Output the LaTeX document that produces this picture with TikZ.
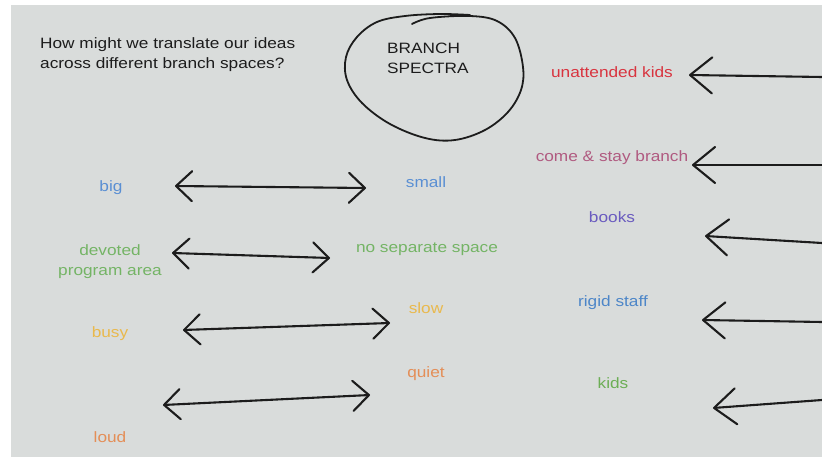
\documentclass[tikz,border=0pt]{standalone}
\usepackage{fontspec}
\usepackage{xcolor}
\usepackage{tikz}
\usetikzlibrary{arrows.meta,positioning}

\newfontfamily\hand{Liberation Sans}[FakeStretch=1.15]

\definecolor{board}{HTML}{D9DCDB}
\definecolor{ink}{HTML}{1C1C1C}
\definecolor{cblue}{HTML}{5A8FD3}
\definecolor{cgreen}{HTML}{74B465}
\definecolor{cyellow}{HTML}{E9B94D}
\definecolor{corange}{HTML}{E48E57}
\definecolor{cred}{HTML}{D8343F}
\definecolor{cmauve}{HTML}{B05A80}
\definecolor{cpurple}{HTML}{6A5BBF}
\definecolor{csteel}{HTML}{4D86C8}
\definecolor{ckids}{HTML}{6CAE55}

\begin{document}
\begin{tikzpicture}[
  x = 1pt, y = -1pt,
  lbl/.style = {font=\hand\fontsize{15}{20}\selectfont, anchor=base,
                align=center, inner sep=0pt},
  note/.style = {lbl, align=left, text=ink, anchor=base west},
  twoway/.style = {draw=ink, line width=2.1pt,
                   {Straight Barb[round,length=16pt,width=30pt]}-{Straight Barb[round,length=16pt,width=30pt]}},
  oneway/.style = {draw=ink, line width=2.1pt,
                   {Straight Barb[round,length=22pt,width=36pt]}-}
]
% canvas
\fill[white] (0,0) rectangle (822,457);
\useasboundingbox (0,0) rectangle (822,457);
\fill[board] (11,5) rectangle (822,457);

% question and title (base = last line)
\node[note] (question) at (40,69) {How might we translate our ideas\\across different branch spaces?};
\node[note] (title) at (387,74) {BRANCH\\SPECTRA};
\draw[ink, line width=1.8pt, line cap=round] plot[smooth, tension=0.6] coordinates {
  (412,24) (430,18) (470,16) (497,21) (515,38) (523,67) (521,90) (508,112)
  (485,130) (455,140) (425,138) (390,124) (362,103) (347,80) (346,57)
  (357,37) (377,22) (405,16) (440,14) (470,15)};

% left column: opposite pairs
\node[lbl, text=cblue] (big) at (111,192) {big};
\node[lbl, text=cblue] (small) at (426,188) {small};
\node[lbl, text=cgreen] (devoted) at (110,275) {devoted\\program area};
\node[lbl, text=cgreen] (nosep) at (427,252) {no separate space};
\node[lbl, text=cyellow] (busy) at (110,337) {busy};
\node[lbl, text=cyellow] (slow) at (426,313) {slow};
\node[lbl, text=corange] (quiet) at (426,377) {quiet};
\node[lbl, text=corange] (loud) at (110,442) {loud};

\coordinate (sizeL) at (175,186);  \coordinate (sizeR) at (366,188);
\coordinate (areaL) at (172,253);  \coordinate (areaR) at (330,258);
\coordinate (paceL) at (183,330);  \coordinate (paceR) at (390,323);
\coordinate (noiseL) at (163,405); \coordinate (noiseR) at (370,395);

\draw[twoway] (sizeL) -- (sizeR);
\draw[twoway] (areaL) -- (areaR);
\draw[twoway] (paceL) -- (paceR);
\draw[twoway] (noiseL) -- (noiseR);

% right column
\node[lbl, text=cred] (unattended) at (612,78) {unattended kids};
\node[lbl, text=cmauve] (comestay) at (612,162) {come \& stay branch};
\node[lbl, text=cpurple] (books) at (612,223) {books};
\node[lbl, text=csteel] (rigid) at (613,306) {rigid staff};
\node[lbl, text=ckids] (kids) at (613,388) {kids};

\coordinate (unattTip) at (689,75);  \coordinate (unattEnd) at (822,77);
\coordinate (stayTip) at (692,165);  \coordinate (stayEnd) at (822,165);
\coordinate (booksTip) at (705,236); \coordinate (booksEnd) at (822,243);
\coordinate (rigidTip) at (702,320); \coordinate (rigidEnd) at (822,322);
\coordinate (kidsTip) at (713,408);  \coordinate (kidsEnd) at (822,400);

\draw[oneway] (unattTip) -- (unattEnd);
\draw[oneway] (stayTip) -- (stayEnd);
\draw[oneway] (booksTip) -- (booksEnd);
\draw[oneway] (rigidTip) -- (rigidEnd);
\draw[oneway] (kidsTip) -- (kidsEnd);
\end{tikzpicture}
\end{document}
